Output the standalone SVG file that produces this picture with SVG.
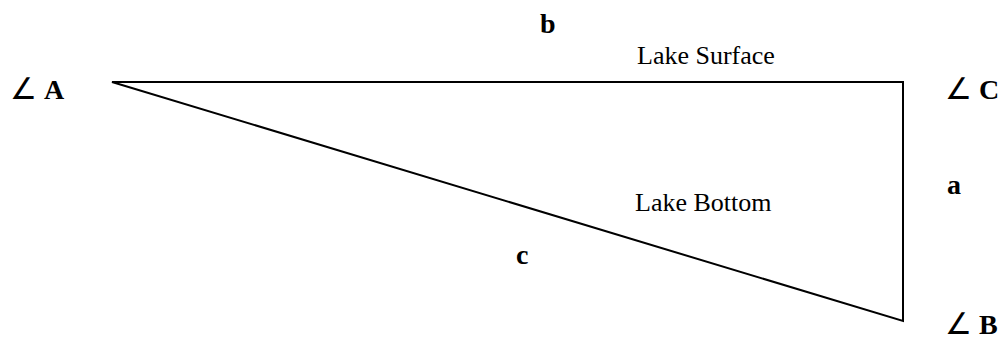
<svg xmlns="http://www.w3.org/2000/svg" width="1005" height="341" viewBox="0 0 1005 341">
<style>
.lbl{font-family:"Liberation Serif","Times New Roman",serif;font-size:28px;font-weight:bold;fill:#000}
.txt{font-family:"Liberation Serif","Times New Roman",serif;font-size:26px;fill:#000}
.ang{font-family:"DejaVu Sans",sans-serif;font-weight:normal;font-size:30px}
</style>
<rect width="1005" height="341" fill="#fff"/>
<g id="connectors">
<polygon id="triangle" points="112,82 903,82 903,321" fill="none" stroke="#000" stroke-width="2" stroke-linejoin="miter"/>
</g>
<g id="nodeA"><text class="lbl" y="99"><tspan class="ang" x="10">∠</tspan><tspan x="44">A</tspan></text></g>
<g id="nodeC"><text class="lbl" y="99"><tspan class="ang" x="945">∠</tspan><tspan x="979">C</tspan></text></g>
<g id="nodeB"><text class="lbl" y="334"><tspan class="ang" x="945">∠</tspan><tspan x="979">B</tspan></text></g>
<g id="side-b"><text class="lbl" x="540" y="33">b</text></g>
<g id="side-a"><text class="lbl" x="947" y="194">a</text></g>
<g id="side-c"><text class="lbl" x="516" y="264">c</text></g>
<g id="surface"><text class="txt" x="637" y="64">Lake Surface</text></g>
<g id="bottom"><text class="txt" x="635" y="211">Lake Bottom</text></g>
</svg>
